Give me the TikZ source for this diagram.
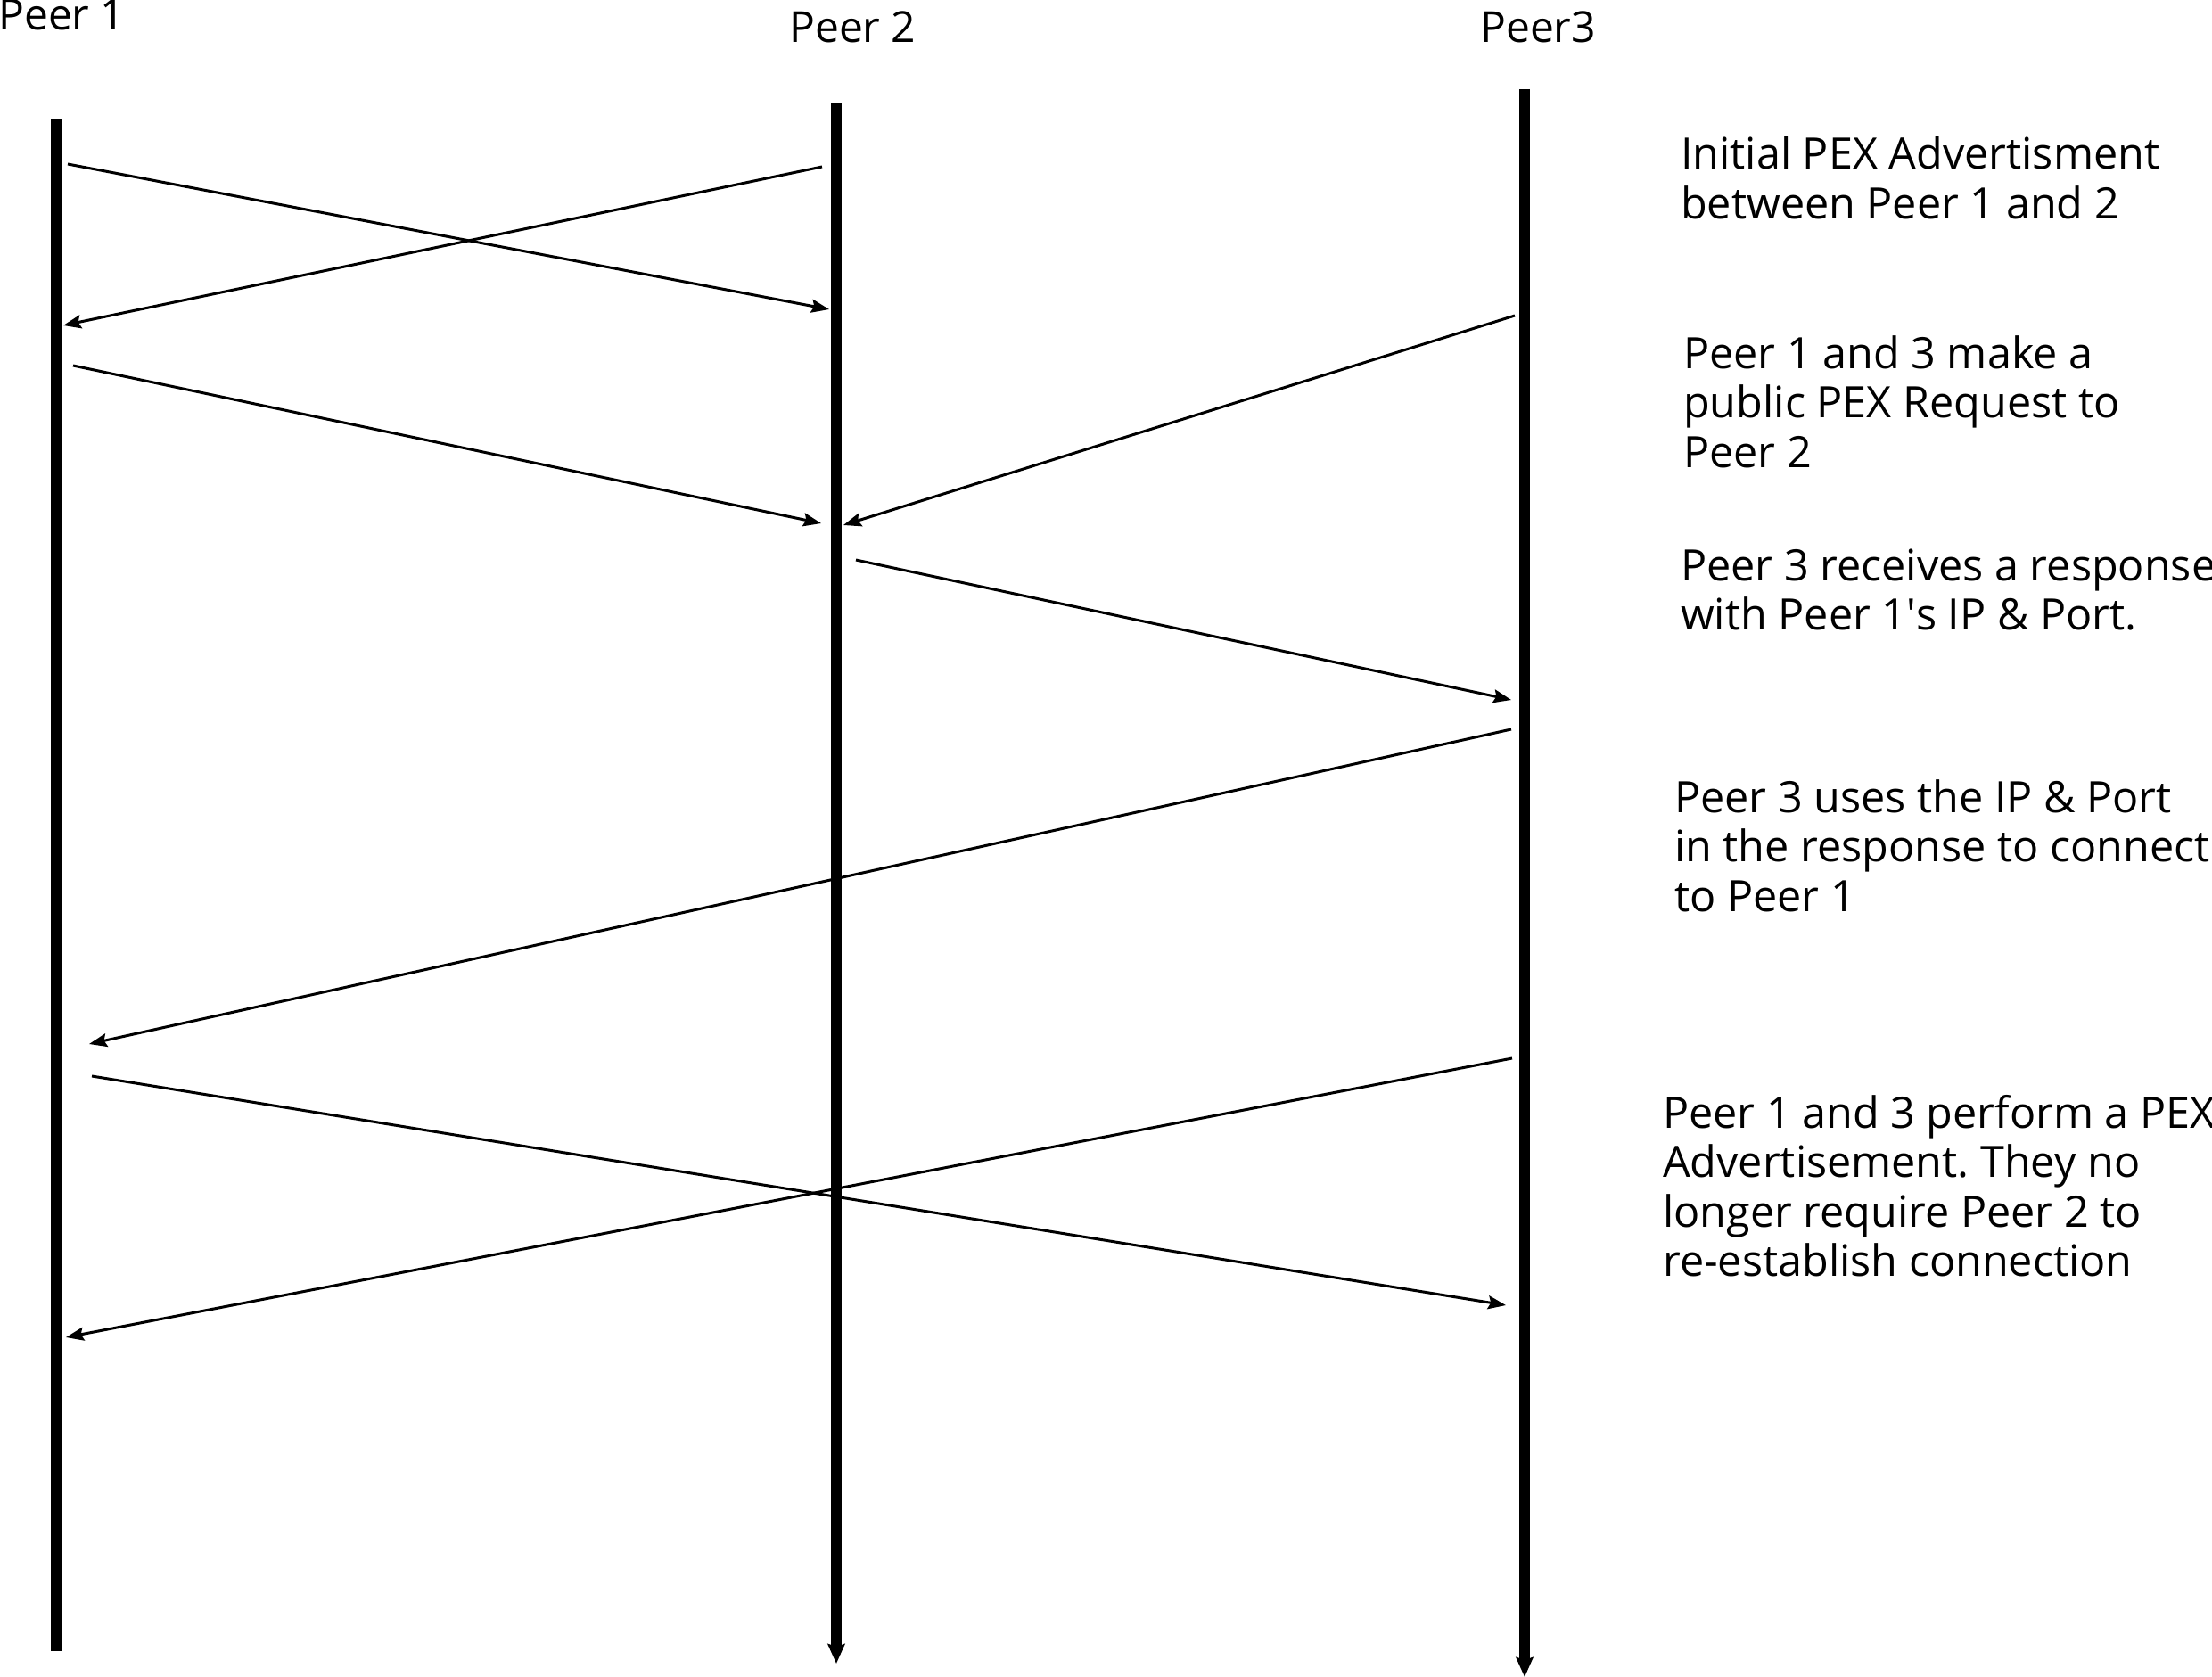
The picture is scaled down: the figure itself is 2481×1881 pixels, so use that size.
\documentclass[tikz,border=0pt]{standalone}
\usepackage{fontspec}
\setmainfont{Open Sans}
\usetikzlibrary{arrows.meta}
\begin{document}
\frenchspacing
\begin{tikzpicture}[x=1pt,y=-1pt,
  lifeline/.style={line width=12pt},
  lifearrow/.style={line width=12pt,-{Stealth[length=22pt,width=19pt,inset=3pt]}},
  msg/.style={line width=3pt,-{Stealth[length=20pt,width=15pt,inset=3pt]}},
  lbl/.style={inner sep=0pt,anchor=base west,font=\fontsize{48}{55.5}\selectfont},
  note/.style={inner sep=0pt,anchor=base west,align=left,font=\fontsize{48.5}{55.5}\selectfont}]
\useasboundingbox (0,0) rectangle (2481,1881);
% lifelines
\coordinate (p1t) at (63,134);
\coordinate (p1b) at (63,1852);
\coordinate (p2t) at (938,116);
\coordinate (p2b) at (938,1866);
\coordinate (p3t) at (1710,100);
\coordinate (p3b) at (1710,1881);
\draw[lifeline] (p1t) -- (p1b);
\draw[lifearrow] (p2t) -- (p2b);
\draw[lifearrow] (p3t) -- (p3b);
% labels
\node[lbl] (l1) at (-2,34) {Peer 1};
\node[lbl] (l2) at (885,48) {Peer 2};
\node[lbl] (l3) at (1660,48) {Peer3};
% message endpoints
\coordinate (a1s) at (76,184);   \coordinate (a1e) at (930,347);
\coordinate (a2s) at (922,187);  \coordinate (a2e) at (71,365);
\coordinate (a3s) at (82,410);   \coordinate (a3e) at (921,587);
\coordinate (a4s) at (1699,354); \coordinate (a4e) at (946,589);
\coordinate (a5s) at (960,628);  \coordinate (a5e) at (1695,785);
\coordinate (a6s) at (1695,818); \coordinate (a6e) at (100,1171);
\coordinate (a7s) at (103,1207); \coordinate (a7e) at (1689,1464);
\coordinate (a8s) at (1696,1187);\coordinate (a8e) at (74,1500);
\draw[msg] (a1s) -- (a1e);
\draw[msg] (a2s) -- (a2e);
\draw[msg] (a3s) -- (a3e);
\draw[msg] (a4s) -- (a4e);
\draw[msg] (a5s) -- (a5e);
\draw[msg] (a6s) -- (a6e);
\draw[msg] (a7s) -- (a7e);
\draw[msg] (a8s) -- (a8e);
% notes (anchor = baseline of last line)
\node[note] (n1) at (1885,245.5) {Initial PEX Advertisment\\between Peer 1 and 2};
\node[note] (n2) at (1888,524) {Peer 1 and 3 make a\\public PEX Request to\\Peer 2};
\node[note] (n3) at (1885,706.5) {Peer 3 receives a response\\with Peer 1\textquotesingle s IP \& Port.};
\node[note] (n4) at (1878,1022) {Peer 3 uses the IP \& Port\\in the response to connect\\to Peer 1};
\node[note] (n5) at (1865,1431.5) {Peer 1 and 3 perform a PEX\\Advertisement. They no\\longer require Peer 2 to\\re-establish connection};
\end{tikzpicture}
\end{document}
